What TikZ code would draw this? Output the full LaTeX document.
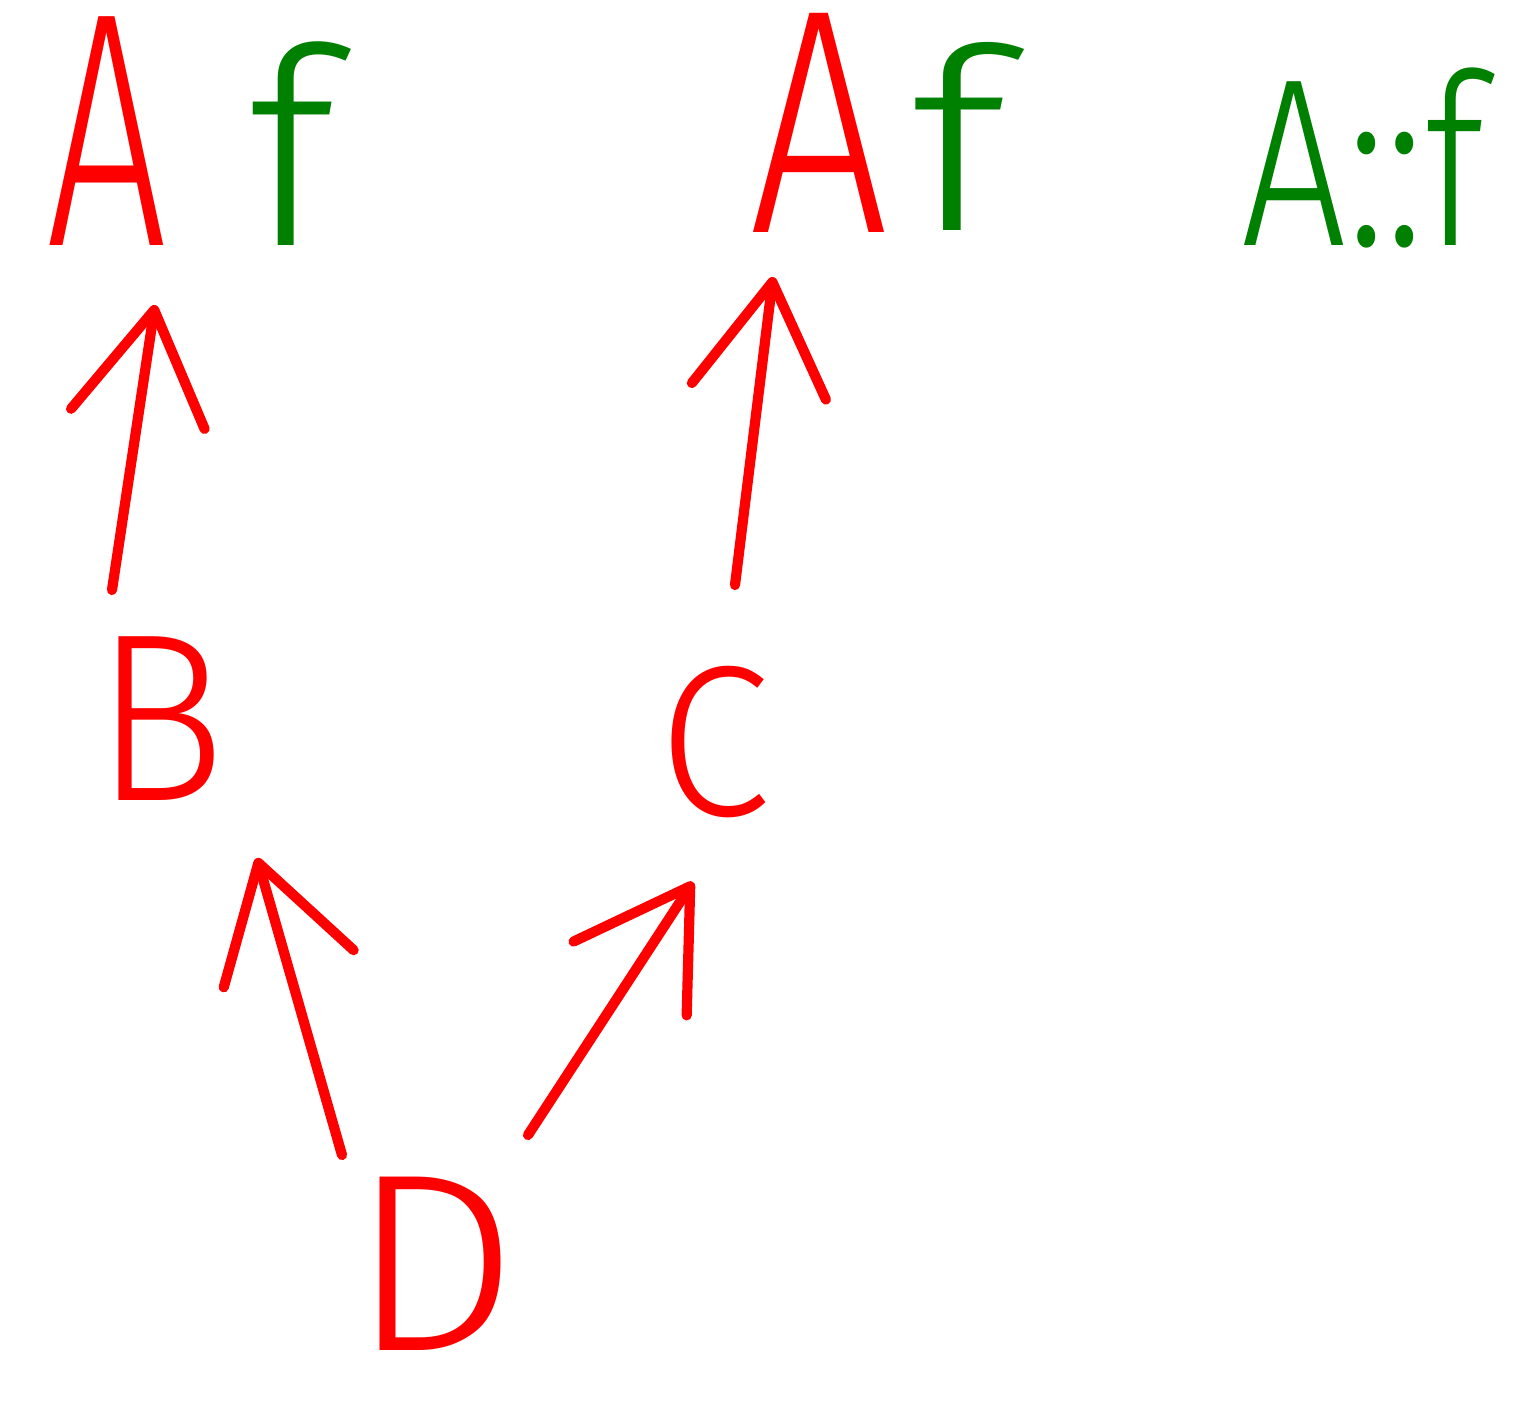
\documentclass[tikz,border=0pt]{standalone}
\usepackage{fontspec}
\usepackage{graphicx}
\usetikzlibrary{arrows.meta}
\IfFontExistsTF{Fira Sans Light}
  {\newfontfamily\handfont{Fira Sans Light}}
  {\newfontfamily\handfont{Fira Sans}}
\definecolor{inkred}{RGB}{255,0,0}
\definecolor{inkgreen}{RGB}{0,128,0}
% size, horizontal squeeze, text
\newcommand{\handglyph}[3]{{\fontsize{#1}{#1}\selectfont\scalebox{#2}[1]{#3}}}

\begin{document}
\begin{tikzpicture}[x=0.01cm,y=-0.01cm,
  letter/.style={inner sep=0pt,outer sep=0pt,anchor=base,font=\handfont},
  redink/.style={letter,text=inkred},
  greenink/.style={letter,text=inkgreen},
  link/.style={draw=inkred,line width=2.9pt,line cap=round,line join=round,
    -{Straight Barb[length=11mm,width=13.5mm,round]}}]
\path[use as bounding box,fill=white] (0,0) rectangle (1517,1417);

% top row: the two A f pairs and the qualified name
\node[redink]   (A1) at (107,245)  {\handglyph{95pt}{0.64}{A}};
\node[greenink] (f1) at (292,245)  {\handglyph{78pt}{1.0}{f}};
\node[redink]   (A2) at (819,232)  {\handglyph{91pt}{0.77}{A}};
\node[greenink] (f2) at (958,230)  {\handglyph{72pt}{1.2}{f}};
\node[greenink] (Af) at (1363,245) {\handglyph{68pt}{0.78}{A::f}};

% middle and bottom
\node[redink] (B) at (160,800)  {\handglyph{68pt}{0.92}{B}};
\node[redink] (C) at (715,815)  {\handglyph{61pt}{0.95}{C}};
\node[redink] (D) at (435,1350) {\handglyph{72pt}{1.05}{D}};

% inheritance arrows
\draw[link] ([shift={(-48,-210)}]B.base) -- ([shift={(48,60)}]A1.base);
\draw[link] ([shift={(20,-230)}]C.base)  -- ([shift={(-46,45)}]A2.base);
\draw[link] ([shift={(-93,-195)}]D.base) -- ([shift={(97,58)}]B.base);
\draw[link] ([shift={(93,-215)}]D.base)  -- ([shift={(-22,67)}]C.base);
\end{tikzpicture}
\end{document}
